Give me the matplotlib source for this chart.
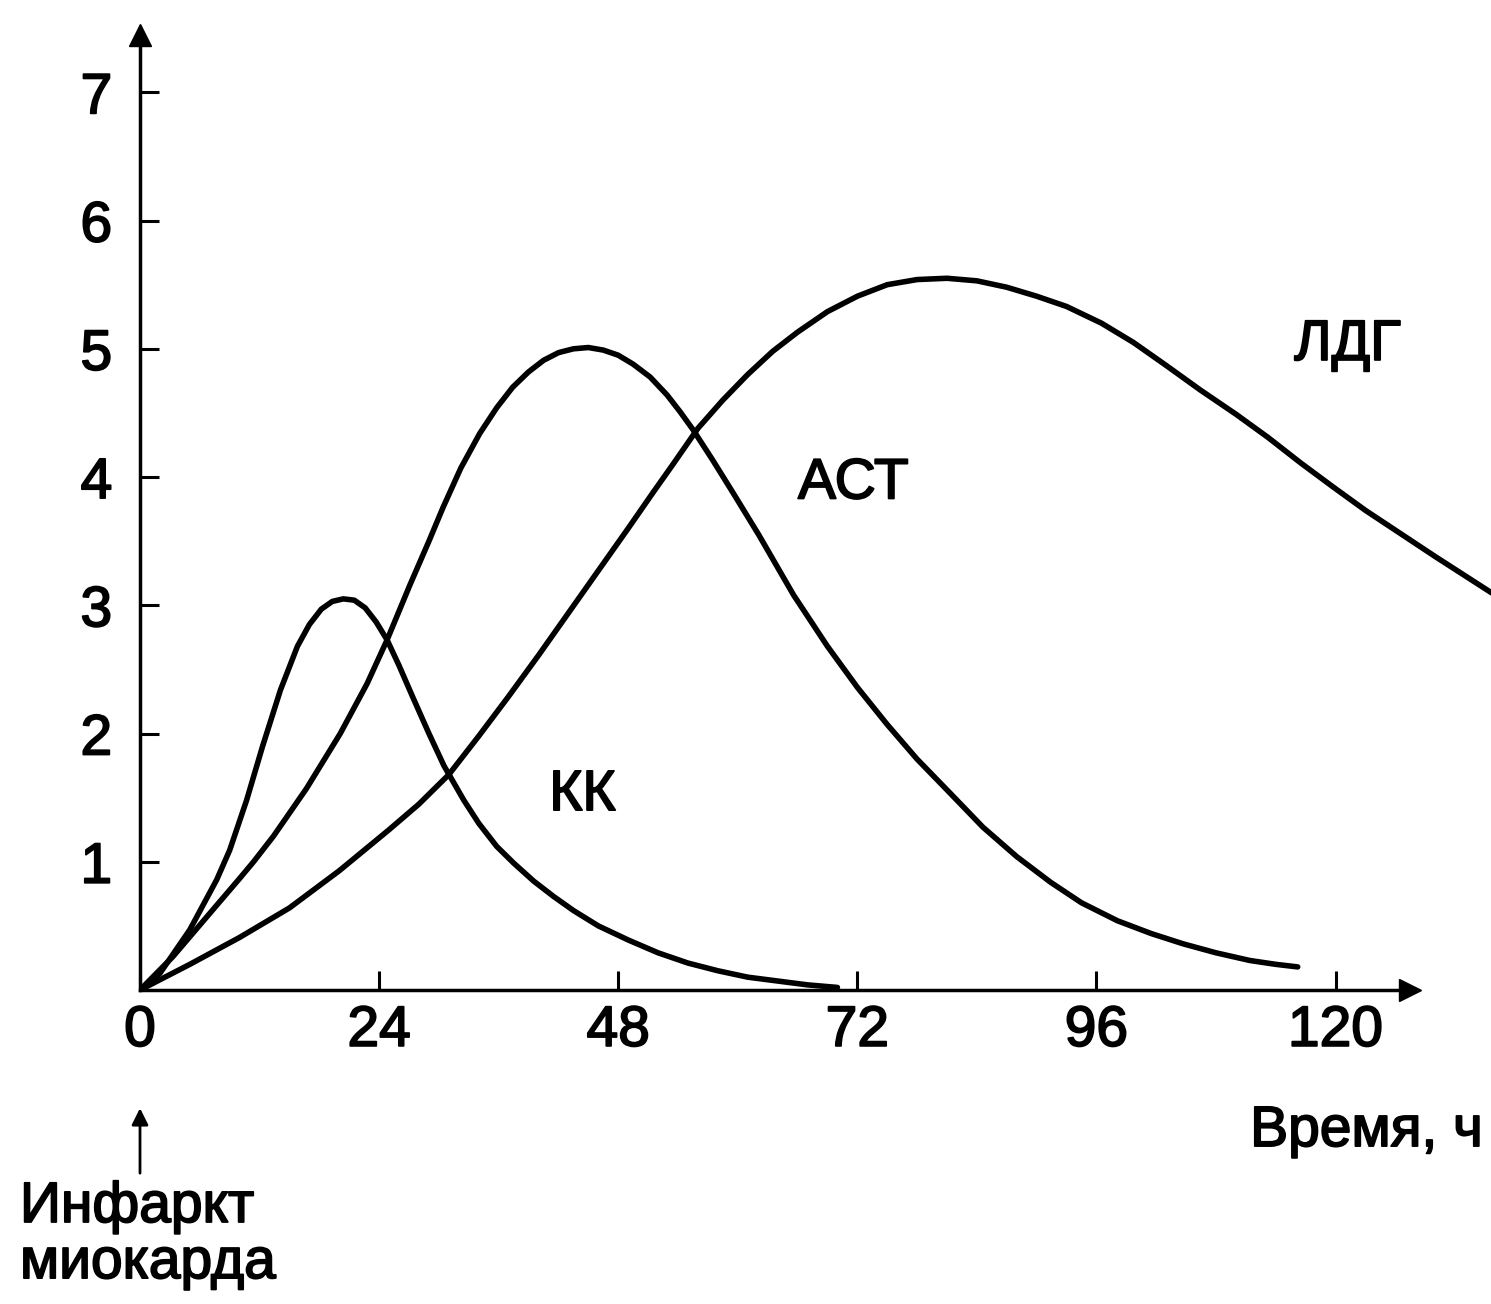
import matplotlib.pyplot as plt
import matplotlib.patheffects as pe

plt.rcParams['font.family'] = ['Liberation Sans', 'DejaVu Sans']

# values (hours after infarction, relative activity)
kk_hours = [0, 2, 5, 7.7, 9, 10.7, 12.3, 14.1, 15.8, 17, 18.2, 19.3, 20.4, 21.5, 22.6,
            23.7, 24.8, 26, 27.4, 29, 30.5, 32.5, 34, 35.8, 37.5, 39.5, 41.5, 43.5, 46,
            49, 52, 55, 58, 61, 64, 67, 70]
kk_values = [0, 0.13, 0.47, 0.86, 1.09, 1.48, 1.9, 2.34, 2.68, 2.85, 2.97, 3.03, 3.05, 3.04,
             2.98, 2.87, 2.73, 2.53, 2.28, 2.0, 1.75, 1.48, 1.3, 1.12, 0.99, 0.85, 0.73,
             0.62, 0.5, 0.39, 0.29, 0.21, 0.15, 0.1, 0.07, 0.04, 0.02]

ast_hours = [0, 3.3, 6.7, 10, 11.4, 13.4, 16.7, 20.1, 22.8, 24.8, 27.1, 29, 30.4, 32.2,
             34.1, 35.8, 37.4, 39, 40.5, 42, 43.5, 45, 46.5, 48, 49.5, 51.2, 52.9, 54.2,
             55.5, 57.5, 59.5, 62.1, 65.6, 69, 72, 75, 78, 81.5, 84.6, 88, 91.4, 94.5,
             98.1, 101.5, 104.7, 108, 111.4, 114, 116.2]
ast_values = [0, 0.26, 0.57, 0.87, 1.0, 1.2, 1.57, 2.0, 2.39, 2.73, 3.16, 3.5, 3.76, 4.07,
              4.34, 4.54, 4.7, 4.82, 4.91, 4.97, 5.0, 5.01, 4.99, 4.95, 4.88, 4.78, 4.64,
              4.51, 4.37, 4.13, 3.88, 3.55, 3.08, 2.68, 2.36, 2.07, 1.8, 1.52, 1.27, 1.04,
              0.84, 0.68, 0.54, 0.44, 0.36, 0.29, 0.23, 0.2, 0.18]

ldg_hours = [0, 5, 10, 15, 20, 25, 28, 31, 34, 37, 40, 43, 46, 49, 51.5, 53.5, 56, 58.5, 61,
             63.5, 66, 69, 72, 75, 78, 81, 84, 87, 90, 93, 96.5, 99.7, 103, 106.4, 110,
             113.2, 116.5, 119.8, 123, 126.5, 130, 133.2, 136]
ldg_values = [0, 0.2, 0.41, 0.64, 0.93, 1.25, 1.45, 1.68, 1.98, 2.29, 2.61, 2.94, 3.27, 3.6,
              3.88, 4.1, 4.38, 4.6, 4.8, 4.98, 5.13, 5.29, 5.41, 5.5, 5.54, 5.55, 5.53,
              5.48, 5.41, 5.33, 5.2, 5.05, 4.87, 4.68, 4.49, 4.31, 4.11, 3.92, 3.74, 3.56,
              3.38, 3.22, 3.08]

x_ticks = [0, 24, 48, 72, 96, 120]
y_ticks = [1, 2, 3, 4, 5, 6, 7]

thick = [pe.withStroke(linewidth=1.3, foreground='black')]

fig = plt.figure(figsize=(14.91, 13.04), dpi=100)
ax = fig.add_axes([0.0939, 0.2408, 0.9061, 0.7592])

for hrs, vals in [(kk_hours, kk_values), (ast_hours, ast_values), (ldg_hours, ldg_values)]:
    ax.plot(hrs, vals, color='black', lw=4, solid_capstyle='round', solid_joinstyle='round')

ax.set_xlim(0, 135.6)
ax.set_ylim(0, 7.72)

ax.spines['top'].set_visible(False)
ax.spines['right'].set_visible(False)
ax.spines['left'].set_linewidth(2.5)
ax.spines['bottom'].set_linewidth(2.5)
ax.spines['left'].set_bounds(0, 7.45)
ax.spines['bottom'].set_bounds(0, 127.5)

# arrow heads on the axes
ax.plot([127.5], [0], marker='>', ms=16, color='black', clip_on=False)
ax.plot([0], [7.45], marker='^', ms=16, color='black', clip_on=False)

ax.set_xticks(x_ticks)
ax.set_yticks(y_ticks)
ax.tick_params(axis='both', direction='in', length=14, width=2.2, labelsize=41)
ax.tick_params(axis='y', pad=20)
ax.tick_params(axis='x', pad=10)
for lbl in ax.get_xticklabels() + ax.get_yticklabels():
    lbl.set_path_effects(thick)

ax.text(44.4, 1.52, 'КК', fontsize=41, ha='center', va='center', path_effects=thick)
ax.text(71.6, 3.95, 'АСТ', fontsize=41, ha='center', va='center', path_effects=thick)
ax.text(121.2, 5.03, 'ЛДГ', fontsize=41, ha='center', va='center', path_effects=thick)

ax.text(134.8, -1.1, 'Время, ч', fontsize=41, ha='right', va='center', clip_on=False,
        path_effects=thick)

ax.annotate('', xy=(0, -0.9), xytext=(0, -1.45), annotation_clip=False,
            arrowprops=dict(arrowstyle='-|>', color='black', lw=2, mutation_scale=25))
fig.text(20 / 1491, 1 - 1180 / 1304, 'Инфаркт\nмиокарда', fontsize=41,
         ha='left', va='top', linespacing=1.05, path_effects=thick)

fig.savefig('out.png', dpi=100)
